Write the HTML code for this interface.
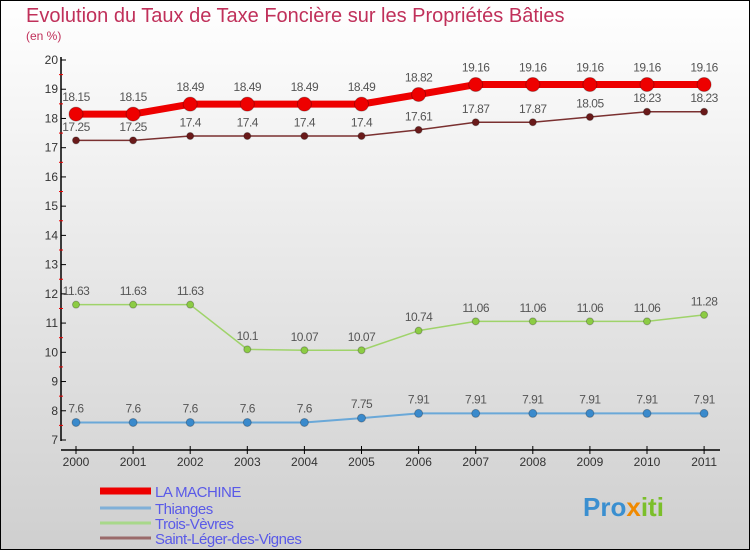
<!DOCTYPE html>
<html><head><meta charset="utf-8"><style>
body{margin:0}
#c{width:750px;height:550px;position:relative;overflow:hidden}
svg text{font-family:"Liberation Sans",sans-serif}
</style></head><body>
<div id="c">
<svg id="s" width="750" height="550" xmlns="http://www.w3.org/2000/svg">
<defs><linearGradient id="bg" x1="0" y1="0" x2="0" y2="1"><stop offset="0" stop-color="#ffffff"/><stop offset="1" stop-color="#cfcfcf"/></linearGradient></defs>
<rect x="0.5" y="0.5" width="749" height="549" fill="url(#bg)" stroke="#000"/>
<text x="26" y="22" font-size="20" fill="#c0305a">Evolution du Taux de Taxe Foncière sur les Propriétés Bâties</text>
<text x="26" y="40" font-size="12" fill="#c0305a">(en %)</text>
<g id="axes"></g><g id="series"></g><g id="legend"></g>
<text x="583" y="516" font-size="26" font-weight="bold" fill="#3a8fd0">Pro<tspan fill="#f08a00">x</tspan><tspan fill="#7bbf2a">iti</tspan></text>
</svg></div>
<script>
const years=["2000","2001","2002","2003","2004","2005","2006","2007","2008","2009","2010","2011"];
const yTicks=[7,8,9,10,11,12,13,14,15,16,17,18,19,20];
const laMachine=[18.15,18.15,18.49,18.49,18.49,18.49,18.82,19.16,19.16,19.16,19.16,19.16];
const thianges=[7.6,7.6,7.6,7.6,7.6,7.75,7.91,7.91,7.91,7.91,7.91,7.91];
const troisVevres=[11.63,11.63,11.63,10.1,10.07,10.07,10.74,11.06,11.06,11.06,11.06,11.28];
const saintLeger=[17.25,17.25,17.4,17.4,17.4,17.4,17.61,17.87,17.87,18.05,18.23,18.23];
const seriesNames=["LA MACHINE","Thianges","Trois-Vèvres","Saint-Léger-des-Vignes"];
const NS="http://www.w3.org/2000/svg";
const x=i=>76+i*57.1;
const y=v=>440-(v-7)*(380/13);
function mk(tag,attrs,parent,txt){const e=document.createElementNS(NS,tag);for(const k in attrs)e.setAttribute(k,attrs[k]);if(txt!==undefined)e.textContent=txt;parent.appendChild(e);return e;}
const ax=document.getElementById('axes');
let e=mk('line',{x1:61,y1:57,x2:61,y2:441,stroke:'#000','stroke-width':1.5},ax);

e=mk('line',{x1:61,y1:450,x2:720,y2:450,stroke:'#000','stroke-width':1.5},ax);

yTicks.forEach(v=>{
 mk('line',{x1:61,y1:y(v),x2:66,y2:y(v),stroke:'#000'},ax);
 if(v<20) mk('line',{x1:59,y1:y(v+0.5),x2:63,y2:y(v+0.5),stroke:'#e00'},ax);
 e=mk('text',{x:58,y:y(v)+4,'font-size':12,'text-anchor':'end',fill:'#333'},ax,String(v));
 
});
years.forEach((yr,i)=>{
 mk('line',{x1:x(i),y1:446,x2:x(i),y2:454,stroke:'#000'},ax);
 e=mk('text',{x:x(i),y:466,'font-size':12,'text-anchor':'middle',fill:'#333'},ax,yr);
 
});
const sg=document.getElementById('series');
function draw(data,color,w,r,name,fill){
 const g=mk('g',{},sg);
 
 mk('polyline',{points:data.map((v,i)=>x(i)+','+y(v)).join(' '),fill:'none',stroke:color,'stroke-width':w,'stroke-linejoin':'round'},g);
 data.forEach((v,i)=>{
  const c=mk('circle',{cx:x(i),cy:y(v),r:r,fill:fill,stroke:'rgba(0,0,0,0.25)'},g);
  
  const t=mk('text',{x:x(i),y:y(v)-(r+6),'font-size':12,'text-anchor':'middle',fill:'#555','letter-spacing':'-0.5'},g,String(v));
  
 });
}
draw(saintLeger,'#7a3030',1.5,3.5,'saint-leger-series','#6a1a1a');
draw(troisVevres,'#9fd36a',1.5,3.5,'trois-vevres-series','#8ccc44');
draw(thianges,'#6aa8d8',2,4,'thianges-series','#3a8acc');
draw(laMachine,'#ee0000',7,7,'la-machine-series','#ee0000');
const lg=document.getElementById('legend');
const lcol=['#ee0000','#80b0d8','#a8d88a','#9a6a6a'],lw=[7,3,3,3],ly=[491,508,523,538];
seriesNames.forEach((n,i)=>{
 const g=mk('g',{},lg);
 
 mk('line',{x1:100,y1:ly[i],x2:151,y2:ly[i],stroke:lcol[i],'stroke-width':lw[i]},g);
 mk('text',{x:155,y:ly[i]+6,'font-size':15,fill:'#5a5ae8','letter-spacing':'-0.5'},g,n);
});
</script>
</body></html>
